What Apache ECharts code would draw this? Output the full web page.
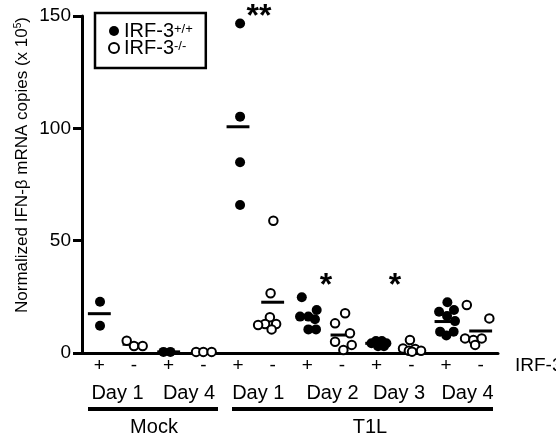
<!DOCTYPE html>
<html>
<head>
<meta charset="utf-8">
<script src="https://cdn.jsdelivr.net/npm/echarts@6/dist/echarts.min.js"></script>
<style>
html,body{margin:0;padding:0;background:#fff;}
#chart{width:556px;height:438px;}
</style>
</head>
<body>
<div id="chart"></div>
<script>
// ---- data ----
const categories = ['+', '-', '+', '-', '+', '-', '+', '-', '+', '-', '+', '-'];
const dayLabels = ['Day 1', 'Day 4', 'Day 1', 'Day 2', 'Day 3', 'Day 4'];
const infectionLabels = ['Mock', 'T1L'];
const yTicks = [0, 50, 100, 150];

// IRF-3+/+ (filled) groups: categories 0,2,4,6,8,10
const wtValues = [
  [22.8, 12.1],
  [0.5, 0.5],
  [146.7, 105.2, 84.9, 65.9],
  [24.8, 19.1, 16.2, 16.2, 15.0, 10.5, 10.5],
  [4.3, 5.3, 5.3, 4.3, 3.0, 3.0],
  [22.6, 18.4, 19.1, 16.5, 14.2, 9.5, 7.8, 9.5]
];
const wtJitter = [
  [0.02, 0.02],
  [-0.15, 0.05],
  [0.06, 0.06, 0.06, 0.06],
  [-0.16, 0.27, -0.21, 0.03, 0.22, 0.03, 0.25],
  [-0.15, -0.02, 0.15, 0.28, 0.04, 0.21],
  [0.04, -0.2, 0.23, 0.03, 0.26, -0.17, 0.01, 0.22]
];
// IRF-3-/- (open) groups: categories 1,3,5,7,9,11
const koValues = [
  [5.5, 3.1, 3.1],
  [0.5, 0.5, 0.5],
  [58.9, 26.6, 15.9, 12.9, 12.5, 12.9, 10.5],
  [17.7, 13.2, 8.8, 5.0, 3.6, 1.3],
  [5.8, 2.0, 1.0, 1.8, 1.0, 0.6],
  [21.4, 15.4, 6.5, 5.8, 6.5, 3.6]
];
const koJitter = [
  [-0.21, 0, 0.25],
  [-0.21, 0, 0.24],
  [0.02, -0.06, -0.08, -0.22, -0.42, 0.1, -0.03],
  [0.09, -0.2, 0.23, -0.2, 0.28, 0.04],
  [-0.04, -0.24, -0.07, 0.11, 0.28, 0.02],
  [-0.4, 0.25, -0.45, -0.21, 0.03, -0.16]
];
// group means (horizontal bars)
const meanValues = [17.5, 3.9, 0.5, 0.5, 100.7, 22.6, 15.8, 8.0, 4.3, 1.6, 14.0, 9.8];

// ---- build ----
const FONT = 'Liberation Sans, Arial, sans-serif';
function buildPoints(values, jitter, offset) {
  const out = [];
  values.forEach((grp, k) => {
    grp.forEach((v, j) => out.push([2 * k + offset + jitter[k][j], v]));
  });
  return out;
}
const wtData = buildPoints(wtValues, wtJitter, 0);
const koData = buildPoints(koValues, koJitter, 1);
const meanData = meanValues.map((m, i) => [i, m]);

const chart = echarts.init(document.getElementById('chart'), null, {renderer: 'canvas'});

const option = {
  animation: false,
  backgroundColor: '#fff',
  textStyle: {fontFamily: FONT, color: '#000'},
  grid: {left: 82, right: 58, top: 16, bottom: 85, containLabel: false},
  legend: {
    orient: 'vertical',
    left: 95,
    top: 13,
    padding: [8, 13, 10, 13],
    itemGap: -3,
    itemWidth: 10,
    itemHeight: 10,
    itemTextGap: 5,
    borderColor: '#000',
    borderWidth: 2.5,
    icon: 'circle',
    data: [
      {name: 'IRF-3+/+', itemStyle: {color: '#000', borderWidth: 0}},
      {name: 'IRF-3-/-', itemStyle: {color: '#fff', borderColor: '#000', borderWidth: 2}}
    ],
    formatter: function (name) {
      return 'IRF-3{sup|' + name.slice(5) + '}';
    },
    textStyle: {
      fontFamily: FONT, fontSize: 20, color: '#000', lineHeight: 17,
      rich: {sup: {fontFamily: FONT, fontSize: 13, color: '#000', lineHeight: 6, verticalAlign: 'top'}}
    }
  },
  xAxis: [
    {
      type: 'value', min: -0.5, max: 11.5,
      axisLine: {show: true, onZero: false, lineStyle: {color: '#000', width: 3}},
      axisTick: {show: false}, axisLabel: {show: false}, splitLine: {show: false}
    },
    {
      type: 'category', data: categories, position: 'bottom', boundaryGap: true,
      axisLine: {show: false}, axisTick: {show: false}, splitLine: {show: false},
      axisLabel: {fontFamily: FONT, fontSize: 19, color: '#000', margin: 3, interval: 0}
    }
  ],
  yAxis: {
    type: 'value', min: yTicks[0], max: yTicks[yTicks.length - 1], interval: 50,
    axisLine: {show: true, onZero: false, lineStyle: {color: '#000', width: 3}},
    axisTick: {show: true, length: 9, lineStyle: {color: '#000', width: 3}},
    axisLabel: {fontFamily: FONT, fontSize: 19, color: '#000', margin: 11},
    splitLine: {show: false}
  },
  series: [
    {
      type: 'custom', name: 'mean', xAxisIndex: 0, yAxisIndex: 0, z: 1,
      data: meanData,
      encode: {x: 0, y: 1},
      renderItem: function (params, api) {
        const x = api.value(0), y = api.value(1);
        const p1 = api.coord([x - 0.33, y]);
        const p2 = api.coord([x + 0.33, y]);
        return {type: 'line', shape: {x1: p1[0], y1: p1[1], x2: p2[0], y2: p2[1]},
          style: {stroke: '#000', lineWidth: 3}};
      }
    },
    {
      type: 'scatter', name: 'IRF-3+/+', xAxisIndex: 0, yAxisIndex: 0, z: 3,
      data: wtData, symbol: 'circle', symbolSize: 10,
      itemStyle: {color: '#000', opacity: 1}
    },
    {
      type: 'scatter', name: 'IRF-3-/-', xAxisIndex: 0, yAxisIndex: 0, z: 2,
      data: koData, symbol: 'circle', symbolSize: 8.5,
      itemStyle: {color: '#fff', borderColor: '#000', borderWidth: 2, opacity: 1}
    }
  ],
  graphic: []
};
chart.setOption(option);

// annotations (text labels, brackets, significance stars)
const dayX = [117.5, 189, 258.3, 332.5, 399, 467.5];
const g = [];
function txt(text, x, y, size, extra) {
  return Object.assign({
    type: 'text', x: x, y: y, silent: true,
    style: Object.assign({
      text: text, fill: '#000', fontFamily: FONT, fontSize: size,
      align: 'center', verticalAlign: 'middle', textAlign: 'center', textVerticalAlign: 'middle'
    }, extra || {})
  });
}
g.push(Object.assign(txt('Normalized IFN-β mRNA copies (x 10{sup|5})', 22, 165, 17, {
  rich: {sup: {fontFamily: FONT, fontSize: 10, fill: '#000', lineHeight: 5, verticalAlign: 'top'}}
}), {rotation: Math.PI / 2}));
g.push(txt('IRF-3', 515, 366, 19, {align: 'left', textAlign: 'left'}));
dayLabels.forEach((d, i) => g.push(txt(d, dayX[i], 393, 20)));
g.push({type: 'line', silent: true, shape: {x1: 88, y1: 409, x2: 218, y2: 409}, style: {stroke: '#000', lineWidth: 4}});
g.push({type: 'line', silent: true, shape: {x1: 232, y1: 409, x2: 493, y2: 409}, style: {stroke: '#000', lineWidth: 4}});
g.push(txt(infectionLabels[0], 154, 427, 20));
g.push(txt(infectionLabels[1], 370, 427, 20));
g.push(txt('**', 259, 17, 32, {fontWeight: 'bold'}));
g.push(txt('*', 326, 286, 32, {fontWeight: 'bold'}));
g.push(txt('*', 395, 286, 32, {fontWeight: 'bold'}));
chart.setOption({graphic: g});
</script>
</body>
</html>
